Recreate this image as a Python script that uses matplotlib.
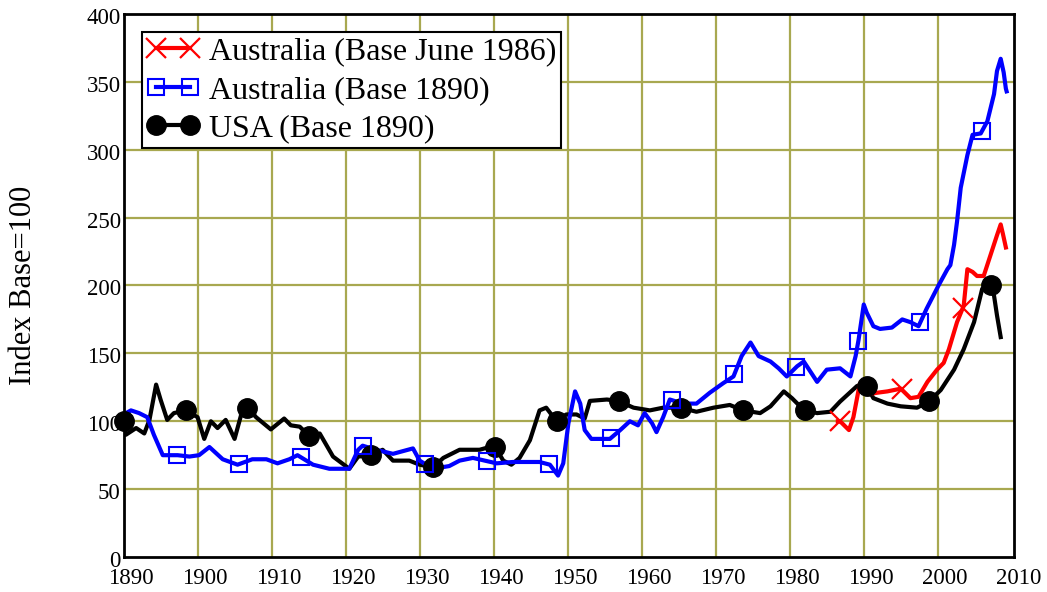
import numpy as np
import matplotlib
matplotlib.use('Agg')
import matplotlib.pyplot as plt
from matplotlib.lines import Line2D
from matplotlib.transforms import ScaledTranslation

plt.rcParams['font.family'] = ['Liberation Serif', 'DejaVu Serif']

usa_years = [1890.0, 1890.3, 1891.7, 1892.8, 1893.5, 1894.4, 1895.0, 1895.9, 1896.8, 1898.4,
             1900.0, 1900.9, 1901.8, 1902.7, 1903.8, 1905.0, 1905.9, 1906.8, 1907.9, 1909.9,
             1911.7, 1912.6, 1913.8, 1915.1, 1916.5, 1918.3, 1920.5, 1921.7, 1923.7, 1925.0,
             1926.4, 1928.6, 1930.0, 1931.8, 1933.2, 1935.4, 1938.1, 1940.1, 1941.3, 1942.4,
             1943.5, 1944.9, 1946.2, 1947.1, 1948.5, 1949.8, 1951.2, 1952.3, 1953.0, 1955.3,
             1956.8, 1958.9, 1961.1, 1962.9, 1965.2, 1967.4, 1969.7, 1971.9, 1973.7, 1976.0,
             1977.4, 1979.2, 1980.3, 1981.4, 1982.1, 1983.7, 1985.5, 1986.8, 1989.1, 1990.3,
             1991.3, 1993.2, 1995.0, 1997.2, 1998.8, 2000.4, 2002.2, 2003.5, 2004.9, 2006.0,
             2007.1, 2007.6, 2008.0, 2008.5]
usa_index = [100, 90, 95, 91, 101, 127, 116, 101, 106, 108,
             103, 87, 100, 95, 101, 87, 105, 110, 103, 94,
             102, 97, 96, 89, 91, 74, 65, 74, 75, 79,
             71, 71, 68, 66, 73, 79, 79, 82, 71, 68,
             73, 86, 108, 110, 100, 105, 105, 102, 115, 116,
             115, 110, 108, 110, 110, 107, 110, 112, 108, 106,
             111, 122, 117, 111, 108, 106, 107, 114.5, 126, 127,
             117, 113, 111, 110, 114.5, 123, 138, 153, 173, 197.5,
             202, 192.5, 178, 162]

aus_years = [1890.0, 1891.0, 1892.1, 1893.2, 1894.1, 1895.3, 1897.3, 1898.9, 1900.2, 1901.6,
             1903.4, 1905.4, 1907.4, 1909.3, 1910.8, 1912.4, 1913.5, 1915.6, 1917.8, 1920.5,
             1921.7, 1922.3, 1924.1, 1926.4, 1929.1, 1930.0, 1931.8, 1934.0, 1935.4, 1937.2,
             1940.4, 1942.6, 1946.2, 1947.6, 1948.7, 1949.4, 1950.1, 1951.0, 1951.7, 1952.3,
             1953.2, 1955.7, 1957.1, 1958.4, 1959.5, 1960.4, 1961.4, 1962.0, 1962.9, 1963.8,
             1965.6, 1967.4, 1969.2, 1971.0, 1972.4, 1973.5, 1974.7, 1975.8, 1977.4, 1978.5,
             1979.6, 1981.0, 1981.9, 1983.7, 1985.0, 1986.8, 1988.2, 1988.9, 1989.3, 1990.0,
             1990.4, 1991.3, 1992.2, 1993.8, 1995.2, 1996.3, 1997.4, 1998.5, 2000.1, 2001.3,
             2001.7, 2002.2, 2002.6, 2003.1, 2004.0, 2004.7, 2005.8, 2006.7, 2007.6, 2008.0,
             2008.5, 2008.9, 2009.2, 2009.3]
aus_index = [105, 108, 106, 103, 90, 75, 75, 74, 75, 81,
             72, 68, 72, 72, 69, 72, 75, 68, 65, 65,
             79, 82, 79, 76, 80, 71, 65, 67, 71, 73,
             69, 70, 70, 68, 60, 69, 98.5, 122, 113, 93.5,
             87, 87, 93.5, 100, 97, 106, 98.5, 92, 103, 116,
             113, 113, 121, 128, 133, 148, 158, 148, 144, 139,
             133, 140.5, 144, 129, 138, 139, 133, 148, 160, 186,
             180, 170, 168, 169, 175, 173, 170, 183, 200, 212,
             215, 230, 247, 272, 296, 311, 312, 321, 341, 358,
             367, 357, 345, 343]

aus86_years = [1986.5, 1986.8, 1988.0, 1988.6, 1989.3, 1989.5, 1990.5, 1991.8, 1993.2, 1995.0,
               1996.3, 1997.4, 1998.6, 1999.9, 2000.8, 2001.5, 2002.6, 2003.5, 2004.0, 2004.7,
               2005.3, 2006.2, 2007.1, 2008.0, 2008.5, 2008.8, 2009.2]
aus86_index = [100, 100, 93.5, 103, 123, 128, 120, 121, 122, 124,
               117, 118, 129, 138, 143, 153, 173, 185, 212, 210,
               207, 207, 222, 237, 245, 238, 228]

labels = ['Australia (Base June 1986)', 'Australia (Base 1890)', 'USA (Base 1890)']

fig = plt.figure(figsize=(10.47, 5.92), dpi=100)
ax = fig.add_axes([0.118, 0.0591, 0.8505, 0.9173])

grid_col = '#a8a850'
for x in range(1900, 2010, 10):
    ax.axvline(x, color=grid_col, lw=1.6, zorder=0)
for y in range(50, 400, 50):
    ax.axhline(y, color=grid_col, lw=1.6, zorder=0)

lw = 3.0
ax.plot(usa_years, usa_index, color='black', lw=lw, zorder=3)
ax.plot(aus_years, aus_index, color='blue', lw=lw, zorder=3)
ax.plot(aus86_years, aus86_index, color='red', lw=lw, zorder=3)

# markers spaced evenly along x, sitting on each curve
mk_usa = np.arange(1890.0, 2008.0, 8.37)
mk_aus = np.arange(1897.2, 2008.0, 8.37)
mk_86 = np.arange(1986.8, 2008.0, 8.3)
ax.plot(mk_usa, np.interp(mk_usa, usa_years, usa_index), 'o', color='black',
        ms=14, zorder=4, clip_on=False)
ax.plot(mk_aus, np.interp(mk_aus, aus_years, aus_index), 's', mfc='none',
        mec='blue', mew=1.5, ms=11.5, zorder=4)
ax.plot(mk_86, np.interp(mk_86, aus86_years, aus86_index), 'x', color='red',
        mew=1.6, ms=14, zorder=4)

ax.set_xlim(1890, 2010.3)
ax.set_ylim(0, 400)
ax.set_xticks(range(1890, 2011, 10))
ax.set_yticks(range(0, 401, 50))
ax.tick_params(length=0, labelsize=16.5)
ax.tick_params(axis='x', pad=8)
ax.tick_params(axis='y', pad=2)
for lab in ax.get_xticklabels():
    lab.set_transform(lab.get_transform() + ScaledTranslation(0.07, 0, fig.dpi_scale_trans))
for lab in ax.get_yticklabels():
    lab.set_transform(lab.get_transform() + ScaledTranslation(0, -0.02, fig.dpi_scale_trans))
for sp in ax.spines.values():
    sp.set_linewidth(2)
    sp.set_zorder(5)

ax.set_ylabel('Index Base=100', fontsize=22)
ax.yaxis.set_label_coords(-0.096, 0.5)

handles = [
    Line2D([], [], color='red', lw=lw, marker='x', ms=14, mew=1.6),
    Line2D([], [], color='blue', lw=lw, marker='s', ms=11.5, mfc='none', mew=1.5),
    Line2D([], [], color='black', lw=lw, marker='o', ms=14),
]
leg = ax.legend(handles, labels, loc='upper left', bbox_to_anchor=(0.0204, 0.966),
                borderaxespad=0, fontsize=23, numpoints=2, fancybox=False,
                framealpha=1, edgecolor='black', handlelength=1.65,
                handletextpad=0.3, labelspacing=0.28, borderpad=0.15)
leg.get_frame().set_linewidth(1.5)
leg.set_zorder(6)

fig.savefig('out.png', dpi=100)
